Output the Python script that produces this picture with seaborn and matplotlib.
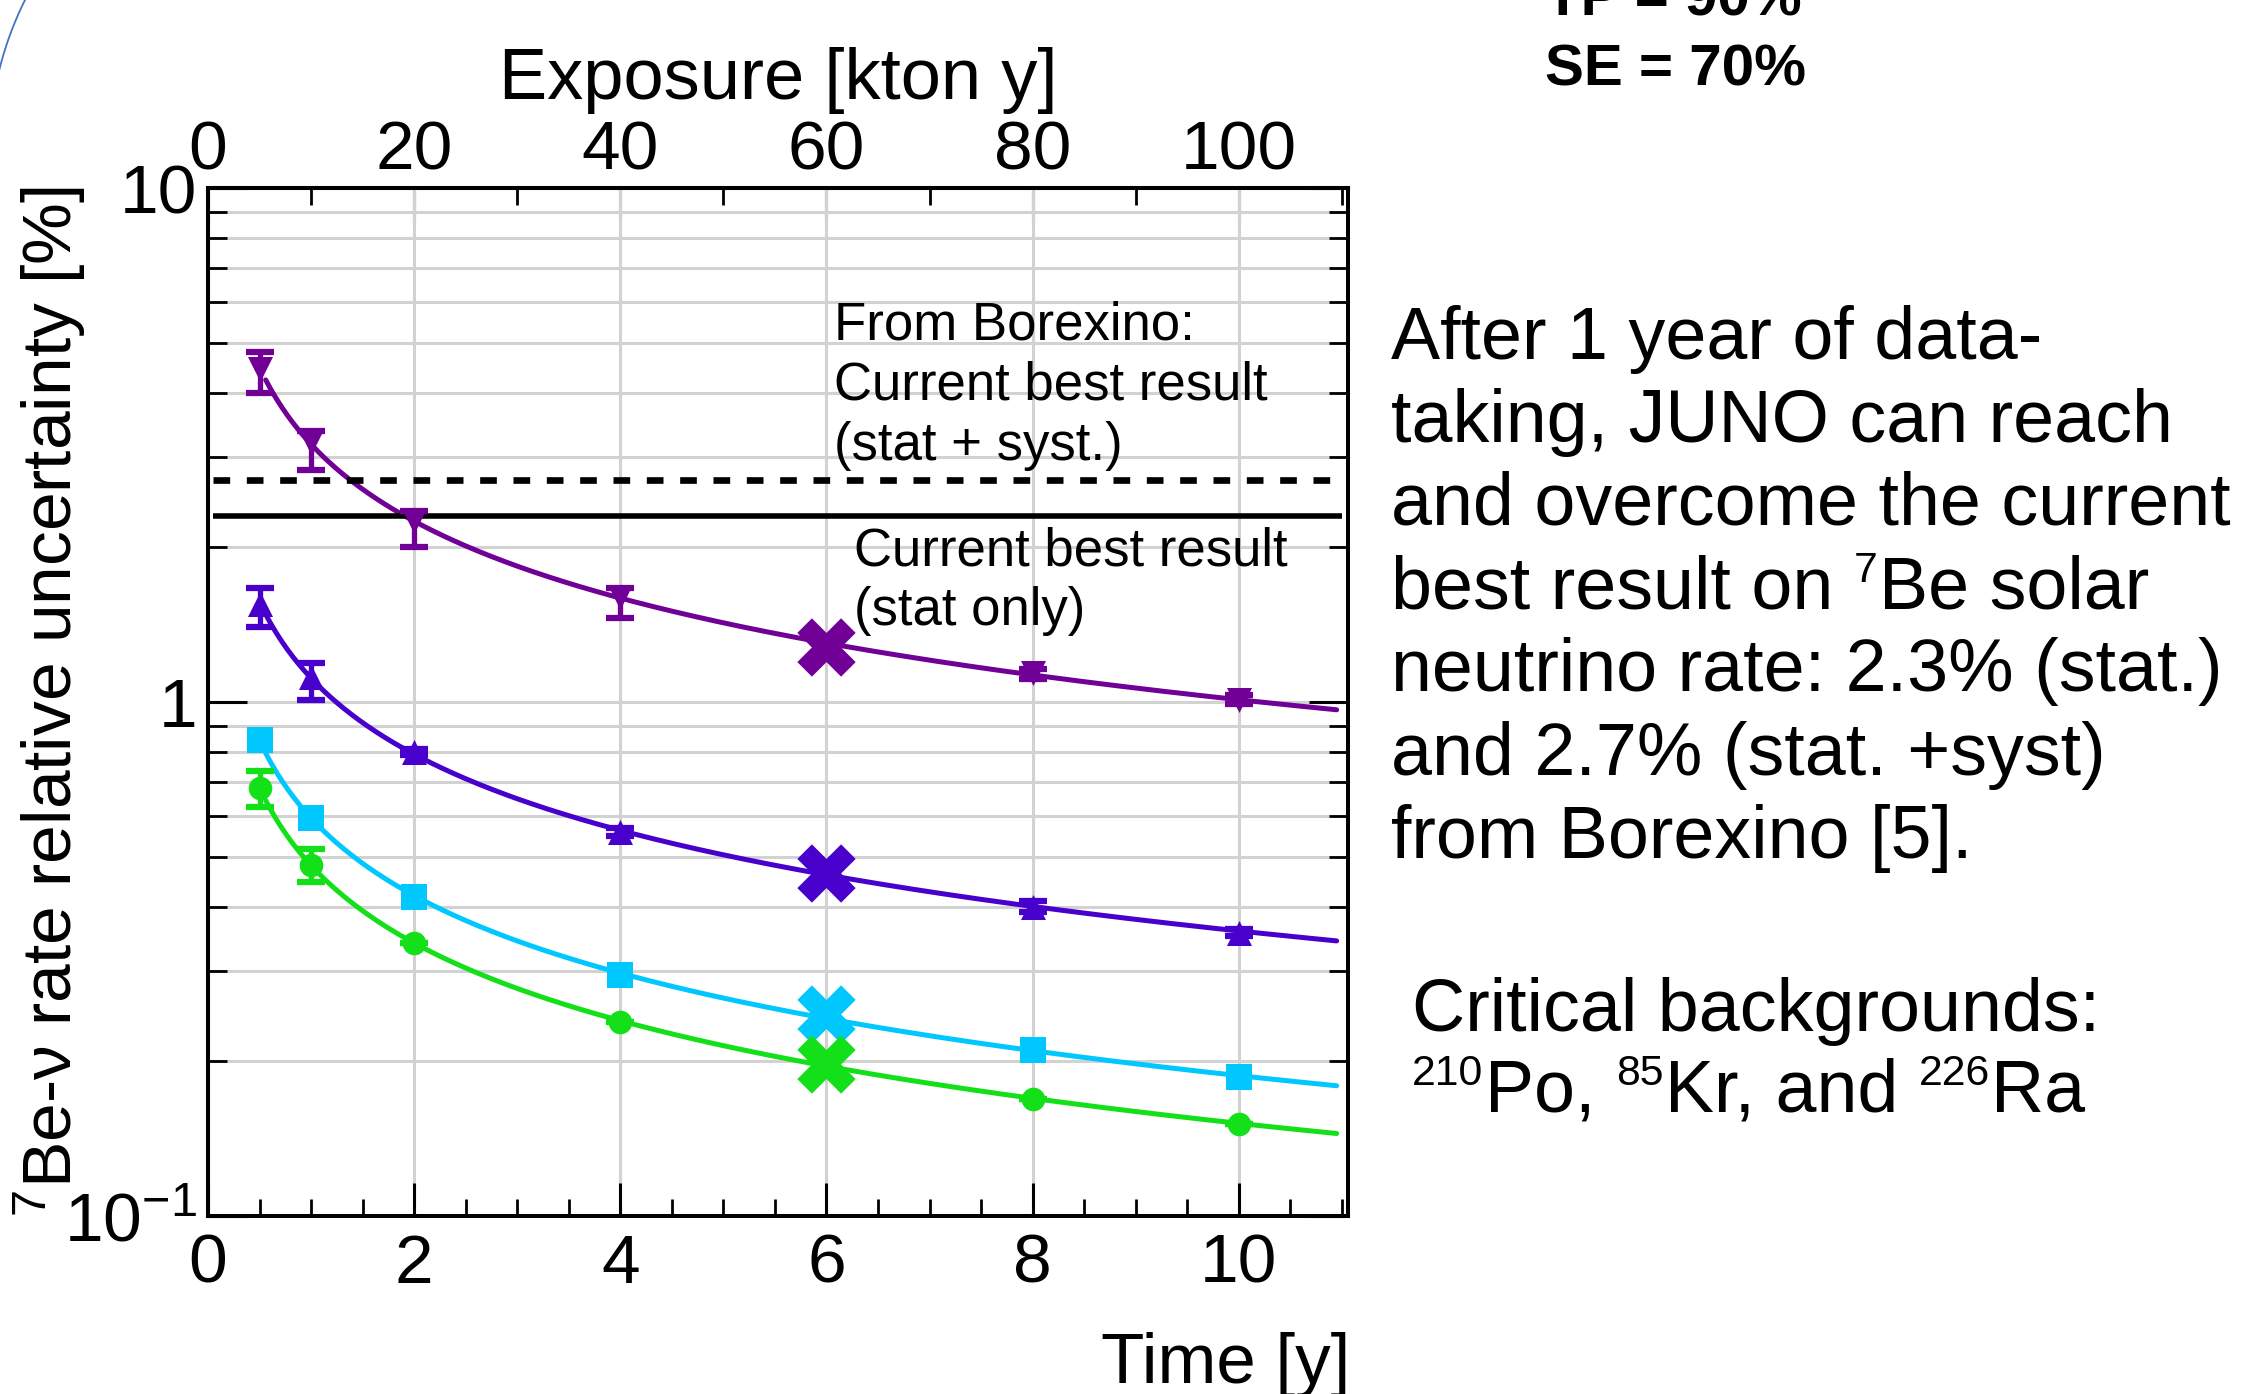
import numpy as np
import pandas as pd
import matplotlib
matplotlib.use("Agg")
import matplotlib.pyplot as plt
from matplotlib.ticker import MultipleLocator, LogLocator, FuncFormatter, NullFormatter
from matplotlib.font_manager import FontProperties
from matplotlib.lines import Line2D
import seaborn as sns

# ---- data -------------------------------------------------------------
time_y = [0.5, 1, 2, 4, 8, 10]          # data-taking time [y]
highlight_time = 6.0                     # reference point marked with a cross

purple_vals = [4.45, 3.20, 2.25, 1.60, 1.14, 1.01]
purple_err_lo = [0.45, 0.37, 0.25, 0.14, 0.03, 0.02]
purple_err_hi = [0.35, 0.16, 0.10, 0.07, 0.02, 0.02]

violet_vals = [1.55, 1.12, 0.80, 0.558, 0.40, 0.356]
violet_err_lo = [0.15, 0.11, 0.01, 0.01, 0.01, 0.005]
violet_err_hi = [0.12, 0.07, 0.01, 0.01, 0.01, 0.005]

cyan_vals = [0.843, 0.595, 0.418, 0.294, 0.210, 0.186]

green_vals = [0.680, 0.482, 0.340, 0.238, 0.169, 0.151]
green_err = [0.055, 0.035, 0.0, 0.0, 0.0, 0.0]

highlight_vals = [1.28, 0.465, 0.247, 0.198]   # purple, violet, cyan, green at 6 y

borexino_stat = 2.3        # %
borexino_stat_syst = 2.7   # %

x_ticks = [0, 2, 4, 6, 8, 10]
exposure_ticks = [0, 20, 40, 60, 80, 100]
y_tick_labels = {0.1: r"$\mathregular{10^{-1}}$", 1.0: "1", 10.0: "10"}

# ---- style ------------------------------------------------------------
sns.set_style("white")
FAMILY = ["Liberation Sans", "DejaVu Sans"]
plt.rcParams["font.family"] = FAMILY
plt.rcParams["mathtext.fontset"] = "custom"
plt.rcParams["mathtext.rm"] = "Liberation Sans"
plt.rcParams["mathtext.it"] = "Liberation Sans:italic"
plt.rcParams["mathtext.bf"] = "Liberation Sans:bold"
for key in ["text.color", "axes.labelcolor", "xtick.color", "ytick.color", "axes.edgecolor"]:
    plt.rcParams[key] = "black"

W, H = 2254, 1394
fig = plt.figure(figsize=(W / 100, H / 100), dpi=100)
fig.patch.set_facecolor("white")


def fx(px):
    return px / W


def fy(py):
    return 1 - py / H


ax = fig.add_axes([fx(208), fy(1216), fx(1348) - fx(208), fy(188) - fy(1216)])
ax.set_yscale("log")
ax.set_xlim(0, 11.06)
ax.set_ylim(0.1, 10)

grid_c = "#d2d2d2"
ax.yaxis.set_major_locator(LogLocator(base=10, numticks=10))
ax.yaxis.set_minor_locator(LogLocator(base=10, subs=np.arange(2, 10), numticks=20))
ax.yaxis.set_major_formatter(FuncFormatter(lambda v, p: y_tick_labels.get(round(v, 3), "")))
ax.yaxis.set_minor_formatter(NullFormatter())
ax.grid(which="both", axis="y", color=grid_c, lw=2.2, zorder=0)
ax.set_xticks(x_ticks)
ax.xaxis.set_minor_locator(MultipleLocator(0.5))
ax.grid(which="major", axis="x", color=grid_c, lw=2.2, zorder=0)
ax.set_axisbelow(True)

for s in ax.spines.values():
    s.set_linewidth(2.9)
    s.set_color("black")
    s.set_visible(True)

ax.tick_params(axis="x", which="major", direction="in", length=24, width=2.2,
               top=False, bottom=True, labelsize=50, pad=12)
ax.tick_params(axis="x", which="minor", direction="in", length=12, width=2.0,
               top=False, bottom=True)
ax.tick_params(axis="y", which="major", direction="in", length=28, width=2.2,
               left=True, right=True, labelsize=50, pad=8)
ax.tick_params(axis="y", which="minor", direction="in", length=14, width=2.0,
               left=True, right=True)

# top axis: exposure
sec = ax.secondary_xaxis("top", functions=(lambda t: t * 10.0, lambda e: e / 10.0))
sec.set_xticks(exposure_ticks)
sec.xaxis.set_minor_locator(MultipleLocator(10))
sec.tick_params(axis="x", which="major", direction="in", length=24, width=2.2,
                labelsize=50, pad=3)
sec.tick_params(axis="x", which="minor", direction="in", length=12, width=2.0)
sec.spines["top"].set_linewidth(2.9)
sec.set_xlabel("Exposure [kton y]", fontsize=52, labelpad=15)

# ---- series -----------------------------------------------------------
purple = "#700096"
violet = "#4800cc"
cyan = "#00c8ff"
green = "#14e01a"

series = [
    (purple_vals, purple, "v", 18, (purple_err_lo, purple_err_hi), highlight_vals[0]),
    (violet_vals, violet, "^", 18, (violet_err_lo, violet_err_hi), highlight_vals[1]),
    (cyan_vals, cyan, "s", 19, None, highlight_vals[2]),
    (green_vals, green, "o", 17, (green_err, green_err), highlight_vals[3]),
]

t_fit = np.linspace(0.56, 10.95, 400)
for vals, col, mk, ms, err, hv in series:
    tx = np.array(time_y + [highlight_time])
    vy = np.array(vals + [hv])
    slope, icpt = np.polyfit(np.log(tx), np.log(vy), 1)
    fit_df = pd.DataFrame({"t": t_fit, "u": np.exp(icpt) * t_fit ** slope})
    sns.lineplot(data=fit_df, x="t", y="u", color=col, lw=3.6, ax=ax, zorder=3)
    if err is not None:
        ax.errorbar(time_y, vals, yerr=[err[0], err[1]], fmt="none", ecolor=col,
                    elinewidth=3.8, capsize=10, capthick=4.5, zorder=4)
    pts = pd.DataFrame({"t": time_y, "u": vals})
    sns.scatterplot(data=pts, x="t", y="u", color=col, marker=mk, s=ms ** 2,
                    linewidth=0, ax=ax, zorder=5)
    sns.scatterplot(x=[highlight_time], y=[hv], color=col, marker="X", s=42 ** 2,
                    linewidth=0, ax=ax, zorder=6)

ax.hlines(borexino_stat_syst, 0.05, 11.0, colors="black", lw=4.8,
          linestyles=(0, (2.5, 2.5)), zorder=3)
ax.hlines(borexino_stat, 0.05, 11.0, colors="black", lw=4.0, zorder=3)

ax.set_xlabel("")
ax.set_ylabel("")

# axis titles
fig.text(fx(1350), fy(1365), "Time [y]", fontsize=51, ha="right", va="center")
fig.text(fx(50), fy(702), r"$\mathregular{^7}$Be-ν rate relative uncertainty [%]",
         fontsize=50, rotation=90, ha="center", va="center")

# in-plot notes
for i, line in enumerate(["From Borexino:", "Current best result", "(stat + syst.)"]):
    fig.text(fx(834), fy(326 + 60 * i), line, fontsize=38, ha="left", va="center")
for i, line in enumerate(["Current best result", "(stat only)"]):
    fig.text(fx(854), fy(551 + 60 * i), line, fontsize=38, ha="left", va="center")

renderer = fig.canvas.get_renderer()


def rich_line(x_px, y_px, parts, size, sup_scale=0.58, rise_em=0.36):
    """Draw one line made of normal and superscript pieces, left to right.

    parts: list of (text, is_superscript); None means one word space.
    """
    em = size * 100 / 72.0
    _, _, desc = renderer.get_text_width_height_descent(
        "lp", FontProperties(family=FAMILY, size=size), ismath=False)
    # baseline of a regular line centred at y_px
    probe = fig.text(fx(x_px), fy(y_px), "lp", fontsize=size, va="center", alpha=0)
    bb = probe.get_window_extent(renderer)
    probe.remove()
    base = bb.y0 + desc
    x = x_px
    for piece in parts:
        if piece is None:
            x += 0.278 * em
            continue
        txt, sup = piece
        fs = size * sup_scale if sup else size
        yb = base + (rise_em * em if sup else 0)
        t = fig.text(x / W, yb / H, txt, fontsize=fs, ha="left", va="baseline")
        x += t.get_window_extent(renderer).width + (0.02 * em if sup else 0)


# side notes
side_lines = [
    "After 1 year of data-",
    "taking, JUNO can reach",
    "and overcome the current",
    None,
    "neutrino rate: 2.3% (stat.)",
    "and 2.7% (stat. +syst)",
    "from Borexino [5].",
]
for i, line in enumerate(side_lines):
    yy = 339 + 83.2 * i
    if line is None:
        rich_line(1391, yy, [("best result on", False), None, ("7", True),
                             ("Be solar", False)], 53)
    else:
        fig.text(fx(1391), fy(yy), line, fontsize=53, ha="left", va="center")

fig.text(fx(1412), fy(1011), "Critical backgrounds:", fontsize=53, ha="left", va="center")
rich_line(1412, 1092, [("210", True), ("Po,", False), None, ("85", True),
                       ("Kr, and", False), None, ("226", True), ("Ra", False)], 53)

fig.text(fx(1545), fy(0), "TP = 90%", fontsize=42, fontweight="bold", ha="left", va="center")
fig.text(fx(1545), fy(70), "SE = 70%", fontsize=42, fontweight="bold", ha="left", va="center")

# thin decorative arc in the top-left corner
cx, cy, r = 333.5, 153.3, 344.5
th = np.linspace(np.pi * 0.95, np.pi * 1.35, 200)
arc_x = cx + r * np.cos(th)
arc_y = cy + r * np.sin(th)
fig.add_artist(Line2D(arc_x / W, 1 - arc_y / H, transform=fig.transFigure,
                      color="#4472c4", lw=1.3))

fig.savefig("out.png", dpi=100)
